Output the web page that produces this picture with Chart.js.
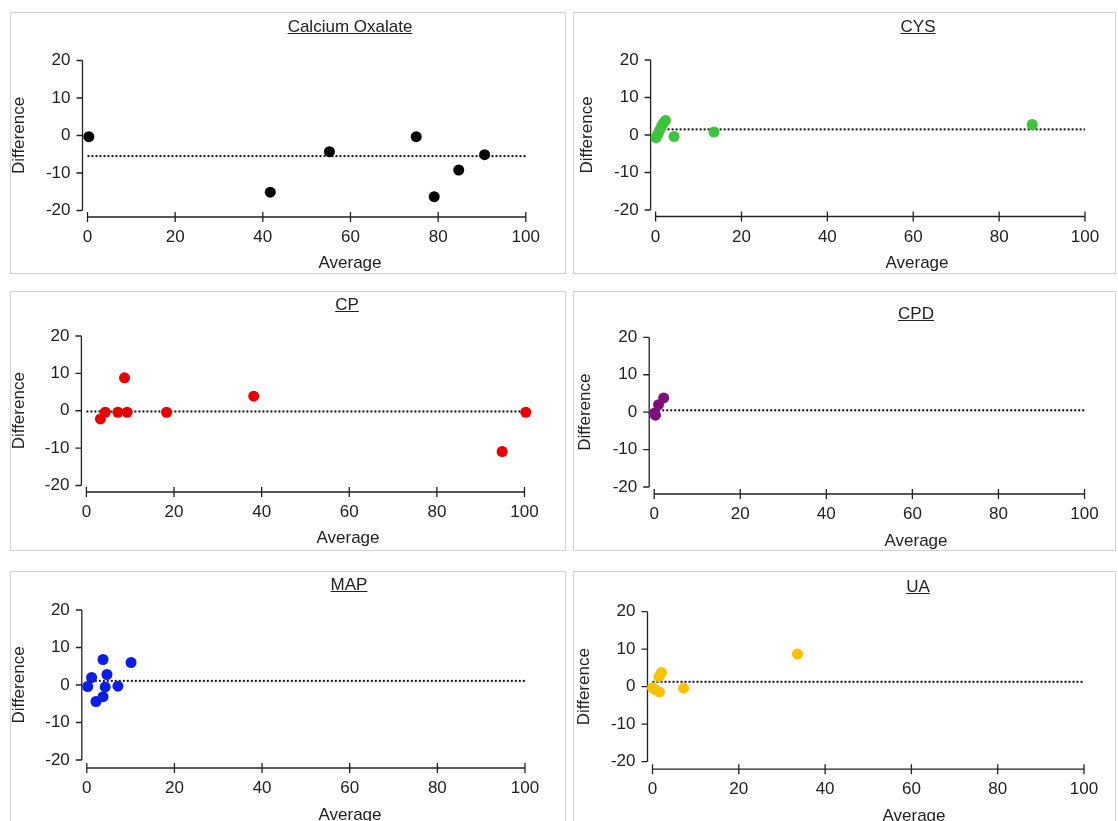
<!DOCTYPE html>
<html>
<head>
<meta charset="utf-8">
<script src="https://cdn.jsdelivr.net/npm/chart.js@4.4.1/dist/chart.umd.min.js"></script>
<style>
    body { margin: 0; background: #fff; width: 1118px; height: 821px; overflow: hidden; position: relative;
           font-family: "Liberation Sans", Arial, sans-serif; color: #222; }
    .panel { position: absolute; box-shadow: inset 0 0 0 1px #d3d3d3; }
    .panel canvas { position: absolute; left: 0; top: 0; }
    .lbl { position: absolute; transform: translate(-50%, -50%); white-space: nowrap; font-size: 17px; line-height: 20px; }
    .ttl { text-decoration: underline; }
</style>
</head>
<body>
<script>
'use strict';

// tick labels shared by every panel
const xTickValues = [0, 20, 40, 60, 80, 100];
const yTickValues = [-20, -10, 0, 10, 20];

// Calcium Oxalate
const oxalateAvg = [0.3, 41.7, 55.2, 75.0, 79.1, 84.7, 90.6];
const oxalateDiff = [-0.3, -15.1, -4.3, -0.3, -16.3, -9.2, -5.1];
const oxalateMean = -5.5;

// CYS
const cysAvg = [0.1, 0.5, 0.9, 1.4, 1.9, 2.3, 4.3, 13.6, 87.7];
const cysDiff = [-0.7, 0.2, 1.2, 2.4, 3.3, 3.9, -0.4, 0.8, 2.8];
const cysMean = 1.5;

// CP
const cpAvg = [3.2, 4.3, 7.2, 8.7, 9.3, 18.3, 38.2, 94.9, 100.3];
const cpDiff = [-2.2, -0.4, -0.4, 8.8, -0.4, -0.4, 3.9, -10.9, -0.4];
const cpMean = -0.2;

// CPD
const cpdAvg = [0.0, 0.3, 1.0, 2.2];
const cpdDiff = [-0.3, -0.8, 2.0, 3.8];
const cpdMean = 0.5;

// MAP
const mapAvg = [0.2, 1.1, 2.1, 3.7, 3.7, 4.2, 4.6, 7.1, 10.1];
const mapDiff = [-0.4, 2.0, -4.4, 6.8, -3.1, -0.5, 2.8, -0.3, 6.0];
const mapMean = 1.1;

// UA
const uaAvg = [0.0, 0.6, 1.6, 1.5, 2.1, 7.2, 33.6];
const uaDiff = [-0.3, -0.8, -1.4, 2.7, 3.8, -0.4, 8.7];
const uaMean = 1.3;

// panel layout (pixels, relative to each panel box)
const panels = [
    { title: 'Calcium Oxalate', avg: oxalateAvg, diff: oxalateDiff, mean: oxalateMean, color: '#000000',
      box: [10, 12, 556, 262], ca: [77.5, 48.5, 515.8, 198.5], padL: 0.5, gapX: 6.5, titleAt: [340, 15], avgAt: [340, 251] },
    { title: 'CYS', avg: cysAvg, diff: cysDiff, mean: cysMean, color: '#3cc43c',
      box: [573, 12, 543, 262], ca: [82.6, 48, 520, 198], padL: 5.5, gapX: 6.5, titleAt: [345, 15], avgAt: [344, 251] },
    { title: 'CP', avg: cpAvg, diff: cpDiff, mean: cpMean, color: '#e60000',
      box: [10, 291, 556, 260], ca: [76.4, 45, 514.5, 194.5], padL: 1, gapX: 6.5, titleAt: [337, 14], avgAt: [338, 247] },
    { title: 'CPD', avg: cpdAvg, diff: cpdDiff, mean: cpdMean, color: '#7d0f7d',
      box: [573, 291, 543, 260], ca: [81.2, 46.3, 518.6, 196], padL: 3.5, gapX: 7, titleAt: [343, 23], avgAt: [343, 250] },
    { title: 'MAP', avg: mapAvg, diff: mapDiff, mean: mapMean, color: '#0a1ee6',
      box: [10, 571, 556, 260], ca: [76.8, 39, 515, 189], padL: 1, gapX: 8, titleAt: [339, 14], avgAt: [340, 244] },
    { title: 'UA', avg: uaAvg, diff: uaDiff, mean: uaMean, color: '#ffc000',
      box: [573, 571, 543, 260], ca: [79.5, 40.7, 517.6, 190.7], padL: 2.5, gapX: 7.5, titleAt: [345, 16], avgAt: [341, 245] }
];

// axes drawn apart from the plot area, like the original software does
const offsetAxes = {
    id: 'offsetAxes',
    beforeDatasetsDraw(chart, args, opts) {
        const { ctx, scales: { x, y } } = chart;
        const ax = x.getPixelForValue(xTickValues[0]) - 5;
        const ay = y.getPixelForValue(yTickValues[0]) + opts.gapX;
        ctx.save();
        ctx.strokeStyle = '#222';
        ctx.lineWidth = 1.3;
        ctx.beginPath();
        ctx.moveTo(ax, y.getPixelForValue(yTickValues[yTickValues.length - 1]));
        ctx.lineTo(ax, y.getPixelForValue(yTickValues[0]));
        yTickValues.forEach(v => {
            const py = y.getPixelForValue(v);
            ctx.moveTo(ax - 6, py);
            ctx.lineTo(ax, py);
        });
        ctx.moveTo(x.getPixelForValue(xTickValues[0]), ay);
        ctx.lineTo(x.getPixelForValue(xTickValues[xTickValues.length - 1]), ay);
        xTickValues.forEach(v => {
            const px = x.getPixelForValue(v);
            ctx.moveTo(px, ay - 5);
            ctx.lineTo(px, ay + 5);
        });
        ctx.stroke();
        ctx.restore();
    }
};

Chart.defaults.font.family = '"Liberation Sans", Arial, sans-serif';
Chart.defaults.font.size = 17;
Chart.defaults.color = '#222';

function addLabel(parent, text, at, cls) {
    const el = document.createElement('div');
    el.className = cls;
    el.textContent = text;
    el.style.left = at[0] + 'px';
    el.style.top = at[1] + 'px';
    parent.appendChild(el);
}

function renderPanel(p) {
    const [bx, by, w, h] = p.box;
    const [cl, ct, cr, cb] = p.ca;

    const div = document.createElement('div');
    div.className = 'panel';
    div.style.left = bx + 'px';
    div.style.top = by + 'px';
    div.style.width = w + 'px';
    div.style.height = h + 'px';
    document.body.appendChild(div);

    const canvas = document.createElement('canvas');
    canvas.width = w;
    canvas.height = h;
    div.appendChild(canvas);

    addLabel(div, p.title, p.titleAt, 'lbl ttl');
    addLabel(div, 'Average', p.avgAt, 'lbl');

    const points = p.avg.map((v, i) => ({ x: v, y: p.diff[i] }));
    const meanLine = [{ x: xTickValues[0], y: p.mean }, { x: xTickValues[xTickValues.length - 1], y: p.mean }];

    new Chart(canvas, {
        type: 'scatter',
        data: {
            datasets: [
                { data: points, backgroundColor: p.color, borderColor: p.color, borderWidth: 0,
                  pointRadius: 5.5, pointHoverRadius: 5.5, clip: false },
                { data: meanLine, showLine: true, borderColor: '#111', borderWidth: 2, borderDash: [2, 2],
                  pointRadius: 0, fill: false, clip: false }
            ]
        },
        options: {
            responsive: false,
            animation: false,
            devicePixelRatio: 1,
            layout: { padding: { left: p.padL, top: ct, right: w - cr, bottom: 0 } },
            plugins: {
                legend: { display: false },
                tooltip: { enabled: false },
                offsetAxes: { gapX: p.gapX }
            },
            scales: {
                x: {
                    type: 'linear', min: 0, max: 100,
                    grid: { display: false, drawTicks: false },
                    border: { display: false },
                    ticks: { padding: p.gapX + 10.3, maxRotation: 0, autoSkip: false },
                    afterBuildTicks: s => { s.ticks = xTickValues.map(v => ({ value: v })); },
                    afterFit: s => { s.height = h - cb; }
                },
                y: {
                    type: 'linear', min: -20, max: 20,
                    grid: { display: false, drawTicks: false },
                    border: { display: false },
                    ticks: { padding: 17 },
                    afterBuildTicks: s => { s.ticks = yTickValues.map(v => ({ value: v })); },
                    afterFit: s => { s.width = cl - p.padL; },
                    title: { display: true, text: 'Difference', padding: 0, font: { lineHeight: 1 } }
                }
            }
        },
        plugins: [offsetAxes]
    });
}

panels.forEach(renderPanel);
</script>
</body>
</html>
